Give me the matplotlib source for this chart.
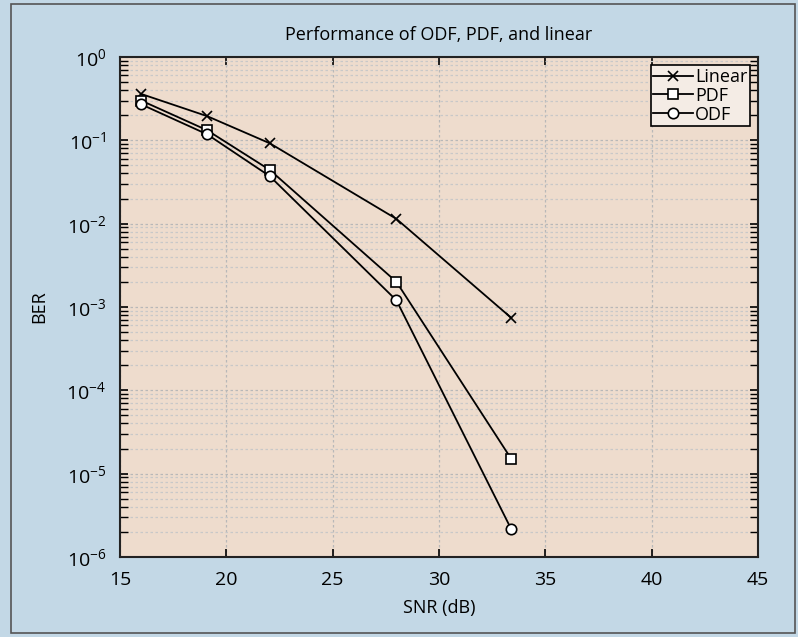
import matplotlib
matplotlib.use("Agg")
import matplotlib.pyplot as plt
from matplotlib.patches import Rectangle
from matplotlib.ticker import LogLocator, NullFormatter, FixedLocator, FuncFormatter
import math

plt.rcParams['font.family'] = ['Open Sans', 'DejaVu Sans']

snr = [16.0, 19.1, 22.05, 28.0, 33.4]
ber_linear = [0.36, 0.195, 0.092, 0.0114, 7.4e-4]
ber_pdf = [0.30, 0.132, 0.044, 0.0020, 1.5e-5]
ber_odf = [0.27, 0.118, 0.037, 0.0012, 2.15e-6]
xticks = [15, 20, 25, 30, 35, 40, 45]

fig = plt.figure(figsize=(7.98, 6.37), dpi=100)
fig.patch.set_facecolor('#c3d8e6')
fig.patches.append(Rectangle((11/798, 4/637), 784/798, 629/637, transform=fig.transFigure,
                             fill=False, edgecolor='#555555', linewidth=1.2))
ax = fig.add_axes([120/798, 1 - 557/637, 638/798, 500/637])
ax.set_facecolor('#eedccd')

ax.plot(snr, ber_linear, color='black', lw=1.3, marker='x', ms=7.5, mew=1.2, label='Linear')
ax.plot(snr, ber_pdf, color='black', lw=1.3, marker='s', ms=7.5, mfc='white', mew=1.2, label='PDF')
ax.plot(snr, ber_odf, color='black', lw=1.3, marker='o', ms=7.5, mfc='white', mew=1.2, label='ODF')

ax.set_yscale('log')
ax.set_xlim(15, 45)
ax.set_ylim(1e-6, 1)
ax.xaxis.set_major_locator(FixedLocator(xticks))
ax.yaxis.set_major_locator(LogLocator(base=10, numticks=10))
ax.yaxis.set_minor_locator(LogLocator(base=10, subs=range(2, 10), numticks=100))
ax.yaxis.set_minor_formatter(NullFormatter())
ax.yaxis.set_major_formatter(FuncFormatter(
    lambda v, p: r'$\mathregular{10^{%d}}$' % round(math.log10(v))))

ax.grid(True, which='major', color='#b8b8b8', linestyle=(0, (2, 2)), linewidth=0.9)
ax.grid(True, which='minor', axis='y', color='#c8c8c8', linestyle=(0, (2, 2)), linewidth=0.9)
ax.set_axisbelow(True)

ax.tick_params(which='both', direction='in', top=True, right=True, color='black')
ax.tick_params(which='major', length=6, width=1.2, labelsize=14, pad=10)
ax.tick_params(which='minor', length=6, width=1.0)
for s in ax.spines.values():
    s.set_linewidth(1.5)
    s.set_color('#222222')

ax.set_title('Performance of ODF, PDF, and linear', fontsize=13, pad=12)
ax.set_xlabel('SNR (dB)', fontsize=13, labelpad=7)
ax.set_ylabel('BER', fontsize=13, labelpad=13)

leg = ax.legend(loc='upper right', fontsize=13, frameon=True, fancybox=False,
                edgecolor='black', facecolor='#f4ece5', framealpha=1,
                borderpad=0.15, labelspacing=0.05, handlelength=2.2, handletextpad=0.1,
                borderaxespad=0.45)
leg.get_frame().set_linewidth(1.2)

fig.savefig('out.png', dpi=100, facecolor=fig.get_facecolor())
